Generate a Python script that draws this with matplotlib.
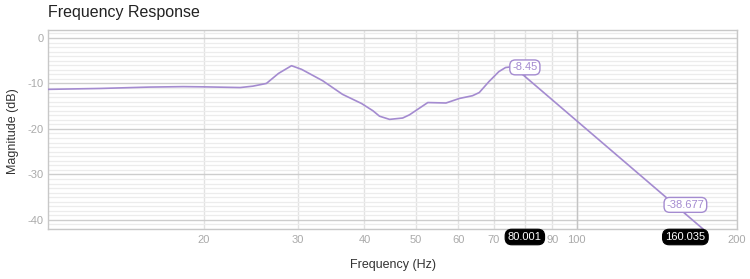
import matplotlib
matplotlib.use("Agg")
import matplotlib.pyplot as plt
from matplotlib.ticker import NullLocator, FixedLocator, FixedFormatter
import numpy as np

plt.rcParams['font.family'] = ['Liberation Sans', 'DejaVu Sans']

# ---- data ----
freq = [10.2, 12.8, 15.8, 18.3, 20.0, 23.4, 24.7, 26.2, 27.6, 29.2, 30.5,
        33.4, 36.4, 39.5, 41.5, 42.7, 44.6, 47.2, 48.6, 52.6, 56.9, 60.3,
        63.8, 65.7, 68.5, 71.5, 73.6, 76.0, 80.001, 160.035, 200.0]
mag = [-11.3, -11.1, -10.8, -10.7, -10.75, -10.9, -10.6, -10.0, -7.8, -6.1, -6.9,
       -9.4, -12.4, -14.4, -16.0, -17.2, -17.9, -17.6, -16.9, -14.2, -14.3, -13.3,
       -12.7, -12.0, -9.6, -7.4, -6.5, -6.3, -8.45, -38.677, -48.4]

x_ticks = [20, 30, 40, 50, 60, 70, 80, 90, 100, 200]
# the "80" label sits under the black 80.001 crosshair label in the reference
x_tick_labels = ['20', '30', '40', '50', '60', '70', '', '90', '100', '200']
y_ticks = [0, -10, -20, -30, -40]
y_tick_labels = ['0', '-10', '-20', '-30', '-40']

markers_x = [80.001, 160.035]
markers_y = [-8.45, -38.677]
markers_xlabel = ['80.001', '160.035']
markers_ylabel = ['-8.45', '-38.677']

# ---- figure ----
W, H = 750, 279
fig = plt.figure(figsize=(W / 100, H / 100), dpi=100)
L, R, T, B = 48, 737, 30, 229
ax = fig.add_axes([L / W, 1 - B / H, (R - L) / W, (B - T) / H])

line_color = '#a48bd0'
tick_color = '#aaaaaa'

ax.set_xscale('log')
ax.set_xlim(10.2, 200)
ax.set_ylim(-42, 1.75)

ax.xaxis.set_major_locator(FixedLocator(x_ticks))
ax.xaxis.set_major_formatter(FixedFormatter(x_tick_labels))
ax.xaxis.set_minor_locator(NullLocator())
ax.yaxis.set_major_locator(FixedLocator(y_ticks))
ax.yaxis.set_major_formatter(FixedFormatter(y_tick_labels))
ax.yaxis.set_minor_locator(FixedLocator(np.arange(-42, 2, 1)))

ax.tick_params(which='both', length=0, labelsize=8, labelcolor=tick_color)
ax.tick_params(axis='x', pad=4)
ax.tick_params(axis='y', pad=3)

ax.grid(which='minor', axis='y', color='#ececec', lw=0.9)
ax.grid(which='major', axis='y', color='#cdcdcd', lw=1.0)
ax.grid(which='major', axis='x', color='#e2e2e2', lw=1.0)
ax.axvline(100, color='#c4c4c4', lw=1.0, zorder=1)
ax.set_axisbelow(True)

for s in ax.spines.values():
    s.set_color('#c8c8c8')
    s.set_linewidth(1.0)

ax.plot(freq, mag, color=line_color, lw=1.2, zorder=3)

# tooltips on the curve
for mx, my, lab in zip(markers_x, markers_y, markers_ylabel):
    ax.annotate(lab, xy=(mx, my), xytext=(0, 9), textcoords='offset pixels',
                ha='center', va='center', fontsize=8, color=line_color,
                bbox=dict(boxstyle='round,pad=0.22,rounding_size=0.5', fc='white',
                          ec=line_color, lw=1.0),
                arrowprops=dict(arrowstyle='-', color=line_color, lw=1.0,
                                shrinkA=0, shrinkB=0),
                zorder=5)

# black x-axis crosshair labels
for mx, lab in zip(markers_x, markers_xlabel):
    ax.annotate(lab, xy=(mx, 0), xycoords=('data', 'axes fraction'),
                xytext=(0, -8), textcoords='offset pixels',
                ha='center', va='center', fontsize=8, color='white',
                bbox=dict(boxstyle='round,pad=0.25,rounding_size=0.6', fc='black',
                          ec='black', lw=0.8),
                annotation_clip=False, zorder=6)

fig.text(L / W, 1 - 17 / H, 'Frequency Response', ha='left', va='baseline',
         fontsize=11.5, color='#222222')
fig.text(393 / W, 1 - 265 / H, 'Frequency (Hz)', ha='center', va='center',
         fontsize=9, color='#333333')
fig.text(13.5 / W, 1 - 131 / H, 'Magnitude (dB)', ha='center', va='center',
         rotation=90, fontsize=9, color='#333333')

fig.savefig('out.png', dpi=100)
